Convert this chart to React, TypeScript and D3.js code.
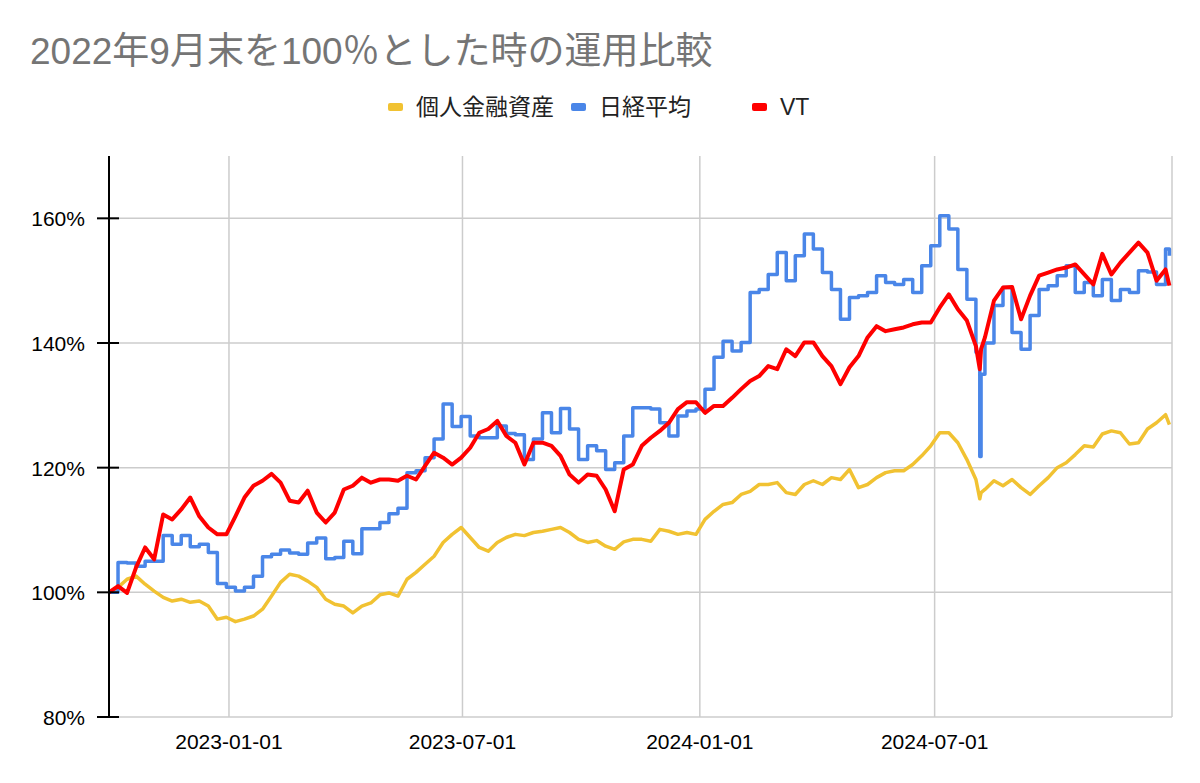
import * as d3 from 'd3';

// 週次（金曜）の観測日。2024-08-05/06 は急落日として追加
const dates = [
  '2022-09-30', '2022-10-07', '2022-10-14', '2022-10-21', '2022-10-28', '2022-11-04', '2022-11-11', '2022-11-18',
  '2022-11-25', '2022-12-02', '2022-12-09', '2022-12-16', '2022-12-23', '2022-12-30', '2023-01-06', '2023-01-13',
  '2023-01-20', '2023-01-27', '2023-02-03', '2023-02-10', '2023-02-17', '2023-02-24', '2023-03-03', '2023-03-10',
  '2023-03-17', '2023-03-24', '2023-03-31', '2023-04-07', '2023-04-14', '2023-04-21', '2023-04-28', '2023-05-05',
  '2023-05-12', '2023-05-19', '2023-05-26', '2023-06-02', '2023-06-09', '2023-06-16', '2023-06-23', '2023-06-30',
  '2023-07-07', '2023-07-14', '2023-07-21', '2023-07-28', '2023-08-04', '2023-08-11', '2023-08-18', '2023-08-25',
  '2023-09-01', '2023-09-08', '2023-09-15', '2023-09-22', '2023-09-29', '2023-10-06', '2023-10-13', '2023-10-20',
  '2023-10-27', '2023-11-03', '2023-11-10', '2023-11-17', '2023-11-24', '2023-12-01', '2023-12-08', '2023-12-15',
  '2023-12-22', '2023-12-29', '2024-01-05', '2024-01-12', '2024-01-19', '2024-01-26', '2024-02-02', '2024-02-09',
  '2024-02-16', '2024-02-23', '2024-03-01', '2024-03-08', '2024-03-15', '2024-03-22', '2024-03-29', '2024-04-05',
  '2024-04-12', '2024-04-19', '2024-04-26', '2024-05-03', '2024-05-10', '2024-05-17', '2024-05-24', '2024-05-31',
  '2024-06-07', '2024-06-14', '2024-06-21', '2024-06-28', '2024-07-05', '2024-07-12', '2024-07-19', '2024-07-26',
  '2024-08-02', '2024-08-05', '2024-08-06', '2024-08-09', '2024-08-16', '2024-08-23', '2024-08-30', '2024-09-06',
  '2024-09-13', '2024-09-20', '2024-09-27', '2024-10-04', '2024-10-11', '2024-10-18', '2024-10-25', '2024-11-01',
  '2024-11-08', '2024-11-15', '2024-11-22', '2024-11-29', '2024-12-06', '2024-12-13', '2024-12-20', '2024-12-27',
  '2024-12-30',
];

// 個人金融資産 (%)
const personal = [
  100.0, 100.8, 102.1, 102.6, 101.3, 100.2, 99.2, 98.6, 98.9, 98.4,
  98.6, 97.8, 95.7, 96.0, 95.3, 95.7, 96.2, 97.3, 99.4, 101.6,
  102.9, 102.6, 101.8, 100.8, 98.9, 98.1, 97.8, 96.7, 97.8, 98.3,
  99.6, 99.9, 99.4, 102.1, 103.2, 104.5, 105.8, 108.0, 109.3, 110.4,
  108.8, 107.2, 106.6, 108.0, 108.8, 109.3, 109.1, 109.6, 109.8, 110.1,
  110.4, 109.6, 108.5, 108.0, 108.3, 107.4, 106.9, 108.1, 108.5, 108.5,
  108.2, 110.1, 109.8, 109.3, 109.6, 109.3, 111.7, 113.0, 114.1, 114.4,
  115.7, 116.2, 117.3, 117.3, 117.6, 116.0, 115.7, 117.3, 117.9, 117.3,
  118.4, 118.1, 119.7, 116.8, 117.3, 118.4, 119.2, 119.5, 119.5, 120.5,
  121.9, 123.5, 125.6, 125.6, 124.0, 121.3, 118.1, 115.0, 116.0,
  116.5, 117.9, 117.1, 118.1, 116.8, 115.7, 117.1,
  118.4, 120.0, 120.8, 122.1, 123.5, 123.3, 125.4, 125.9, 125.6, 123.8,
  124.0, 126.2, 127.2, 128.5, 126.9,
];

// 日経平均 (%)
const nikkei = [
  100.0, 104.8, 104.7, 104.2, 105.0, 105.0, 109.1, 107.7, 109.1, 107.3,
  107.7, 106.4, 101.4, 100.8, 100.2, 100.8, 102.6, 105.7, 106.1, 106.8,
  106.3, 106.1, 107.9, 108.7, 105.4, 105.6, 108.2, 106.2, 110.2, 110.2,
  111.2, 112.6, 113.5, 119.2, 119.5, 121.6, 124.6, 130.2, 126.6, 128.2,
  125.1, 124.8, 124.8, 126.7, 125.5, 125.3, 121.3, 124.6, 128.8, 125.6,
  129.5, 126.2, 121.3, 123.5, 122.7, 119.7, 120.8, 125.1, 129.6, 129.6,
  129.4, 127.2, 125.1, 128.3, 129.1, 129.4, 132.6, 137.7, 140.3, 138.7,
  140.1, 148.1, 148.6, 151.0, 154.5, 150.0, 154.0, 157.5, 155.1, 151.3,
  148.6, 143.8, 147.3, 147.6, 148.1, 150.8, 149.7, 149.4, 150.2, 148.1,
  152.4, 155.6, 160.4, 158.3, 151.8, 147.0, 138.5, 121.8, 135.0,
  140.0, 146.0, 148.9, 141.7, 139.0, 144.4, 148.6,
  149.2, 150.8, 152.4, 148.1, 149.7, 147.6, 150.2, 146.8, 148.6, 148.1,
  151.6, 151.4, 149.4, 155.1, 154.0,
];

// VT (%)
const vt = [
  100.0, 101.0, 99.9, 104.0, 107.2, 105.3, 112.5, 111.7, 113.3, 115.2,
  112.2, 110.4, 109.3, 109.3, 112.2, 115.2, 117.1, 117.9, 119.0, 117.6,
  114.7, 114.4, 116.3, 112.8, 111.2, 112.8, 116.5, 117.1, 118.4, 117.6,
  118.1, 118.1, 117.9, 118.7, 118.1, 120.3, 122.4, 121.6, 120.5, 121.6,
  123.2, 125.6, 126.2, 127.5, 125.1, 124.0, 120.5, 124.0, 124.0, 123.5,
  121.9, 118.9, 117.6, 118.9, 118.7, 116.5, 113.0, 119.7, 120.5, 123.5,
  124.8, 125.9, 127.2, 129.4, 130.5, 130.5, 128.8, 129.9, 129.9, 131.2,
  132.6, 133.9, 134.7, 136.3, 135.8, 139.0, 137.9, 140.1, 140.1, 137.9,
  136.3, 133.4, 136.1, 137.9, 140.9, 142.7, 141.9, 142.2, 142.5, 143.0,
  143.3, 143.3, 145.7, 147.8, 145.4, 143.6, 139.5, 135.8, 139.0,
  140.9, 146.8, 148.9, 149.0, 143.8, 147.6, 150.8,
  151.3, 151.8, 152.1, 152.6, 151.0, 149.4, 154.3, 151.0, 152.9, 154.5,
  156.1, 154.5, 150.0, 151.8, 149.2,
];

const seriesNames = ['個人金融資産', '日経平均', 'VT'];
const yTicks = [80, 100, 120, 140, 160];
const xGrid = ['2023-01-01', '2023-07-01', '2024-01-01', '2024-07-01', '2025-01-01'];
const xLabels = ['2023-01-01', '2023-07-01', '2024-01-01', '2024-07-01'];
const xDomain = ['2022-09-30', '2025-01-01'];
const yDomain = [80, 170];

const COLORS = ['#F1C232', '#4A86E8', '#FF0000'];
const FONT = "'Liberation Sans', Arial, 'Noto Sans CJK JP', sans-serif";

const parse = d3.timeParse('%Y-%m-%d');

export default function App() {
  const width = 1200;
  const height = 783;
  const plot = { left: 109, right: 1172, top: 156, bottom: 717 };

  const x = d3
    .scaleTime()
    .domain(xDomain.map((d) => parse(d) as Date))
    .range([plot.left, plot.right]);
  const y = d3.scaleLinear().domain(yDomain).range([plot.bottom, plot.top]);

  const pathFor = (values: number[], curve: d3.CurveFactory) =>
    d3
      .line<number>()
      .x((_, i) => x(parse(dates[i]) as Date))
      .y((d) => y(d))
      .curve(curve)(values) ?? '';

  const series = [
    { values: personal, curve: d3.curveLinear, w: 3.5 },
    { values: nikkei, curve: d3.curveStepAfter, w: 3.5 },
    { values: vt, curve: d3.curveLinear, w: 4 },
  ];

  // 凡例の位置
  const legendX = [388, 571, 752];

  return (
    <div style={{ position: 'absolute', left: 0, top: 0 }}>
      <svg width={width} height={height} style={{ display: 'block', background: '#fff' }}>
        {/* タイトル */}
        <text x={30} y={64} fontFamily={FONT} fontSize={37} fill="#757575">
          2022年9月末を100％とした時の運用比較
        </text>

        {/* 凡例 */}
        {seriesNames.map((name, i) => (
          <g key={name}>
            <rect x={legendX[i]} y={103} width={15} height={8} rx={2} fill={COLORS[i]} />
            <text x={legendX[i] + 28} y={115} fontFamily={FONT} fontSize={23} fill="#222">
              {name}
            </text>
          </g>
        ))}

        {/* グリッド */}
        {yTicks.map((t) => (
          <line key={t} x1={plot.left} x2={plot.right} y1={y(t)} y2={y(t)} stroke="#CCCCCC" strokeWidth={1.5} />
        ))}
        {xGrid.map((d) => (
          <line
            key={d}
            x1={x(parse(d) as Date)}
            x2={x(parse(d) as Date)}
            y1={plot.top}
            y2={plot.bottom}
            stroke="#CCCCCC"
            strokeWidth={1.5}
          />
        ))}

        {/* 系列 */}
        {series.map((s, i) => (
          <path
            key={i}
            d={pathFor(s.values, s.curve)}
            fill="none"
            stroke={COLORS[i]}
            strokeWidth={s.w}
            strokeLinejoin="round"
          />
        ))}

        {/* Y軸 */}
        <line x1={plot.left} x2={plot.left} y1={plot.top} y2={plot.bottom} stroke="#000" strokeWidth={2} />
        {yTicks.map((t) => (
          <g key={t}>
            <line x1={97} x2={119} y1={y(t)} y2={y(t)} stroke="#000" strokeWidth={2} />
            <text x={85} y={y(t) + 8} textAnchor="end" fontFamily={FONT} fontSize={21} fill="#000">
              {t}%
            </text>
          </g>
        ))}

        {/* X軸ラベル */}
        {xLabels.map((d) => (
          <text
            key={d}
            x={x(parse(d) as Date)}
            y={749}
            textAnchor="middle"
            fontFamily={FONT}
            fontSize={21}
            fill="#000"
          >
            {d}
          </text>
        ))}
      </svg>
    </div>
  );
}
